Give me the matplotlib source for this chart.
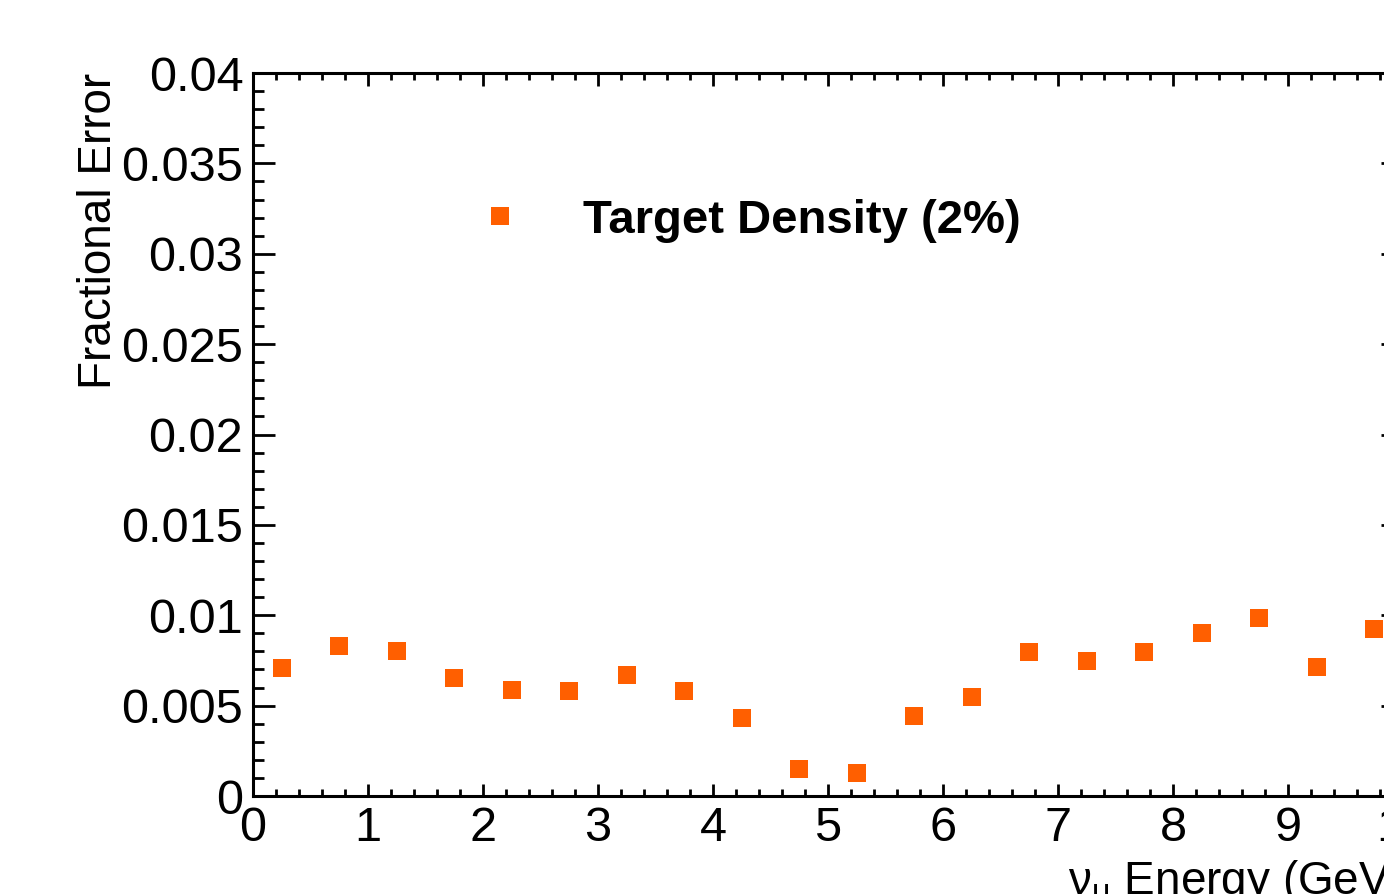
import numpy as np
import matplotlib
matplotlib.use('Agg')
import matplotlib.pyplot as plt
from matplotlib.ticker import MultipleLocator, FormatStrFormatter

matplotlib.rcParams['font.family'] = 'Liberation Sans'
matplotlib.rcParams['mathtext.fontset'] = 'custom'
matplotlib.rcParams['mathtext.rm'] = 'Liberation Sans'
matplotlib.rcParams['mathtext.default'] = 'regular'

# Data
energy = [0.25, 0.75, 1.25, 1.75, 2.25, 2.75, 3.25, 3.75, 4.25, 4.75,
          5.25, 5.75, 6.25, 6.75, 7.25, 7.75, 8.25, 8.75, 9.25, 9.75]
frac_err = [0.00708, 0.0083, 0.0080, 0.00653, 0.00586, 0.00581, 0.00669,
            0.00581, 0.00432, 0.00149, 0.00127, 0.00443, 0.00548, 0.00797,
            0.00747, 0.00797, 0.00902, 0.00985, 0.00714, 0.00924]
series_label = 'Target Density (2%)'

fig = plt.figure(figsize=(13.84, 8.94), dpi=100)
# axes run past the right edge of the canvas, as in the reference
ax = fig.add_axes([0.1828, 0.1096, 0.8309, 0.8087])

ax.plot(energy, frac_err, linestyle='none', marker='s', markersize=12.3,
        color='#ff5f00', markeredgewidth=0, label=series_label)

ax.set_xlim(0, 10)
ax.set_ylim(0, 0.04)

# ROOT style ticks
ax.xaxis.set_major_locator(MultipleLocator(1))
ax.xaxis.set_minor_locator(MultipleLocator(0.2))
ax.yaxis.set_major_locator(MultipleLocator(0.005))
ax.yaxis.set_minor_locator(MultipleLocator(0.001))
ax.yaxis.set_major_formatter(FormatStrFormatter('%g'))
ax.tick_params(which='both', direction='in', top=True, right=True,
               labelsize=35, width=2, color='black')
ax.tick_params(axis='y', which='major', length=16, pad=7)
ax.tick_params(axis='y', which='minor', length=8)
ax.tick_params(axis='x', which='major', length=9, pad=7)
ax.tick_params(axis='x', which='minor', length=5)
for sp in ax.spines.values():
    sp.set_linewidth(2.2)

ax.set_ylabel('Fractional Error', fontsize=33, loc='top', labelpad=0)
ax.set_xlabel(r'$\nu_{\mu}$ Energy (GeV)', fontsize=33, loc='right', labelpad=6)

ax.legend(loc='center left', bbox_to_anchor=(0.3443, 0.7528),
          bbox_transform=fig.transFigure, frameon=False, handlelength=1,
          handletextpad=1.25, borderpad=0, borderaxespad=0,
          prop={'size': 34, 'weight': 'bold'})

fig.savefig('out.png', dpi=100)
